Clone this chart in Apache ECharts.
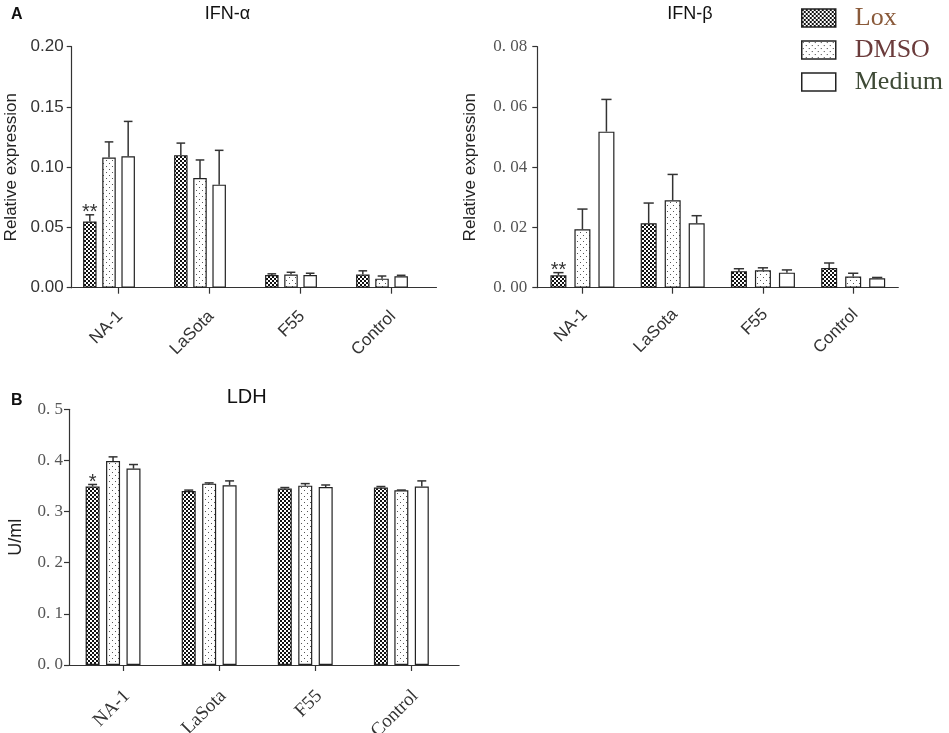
<!DOCTYPE html>
<html><head><meta charset="utf-8">
<script src="https://cdn.jsdelivr.net/npm/echarts@6/dist/echarts.min.js"></script>
<style>html,body{margin:0;padding:0;background:#fff}#c{width:949px;height:733px}</style>
</head><body><div id="c"></div>
<script>
// ---------------- data ----------------
const categories = ['NA-1', 'LaSota', 'F55', 'Control'];
const groupNames = ['Lox', 'DMSO', 'Medium'];

// IFN-α relative expression (mean, SEM)
const ifnaLox = [0.055, 0.110, 0.0105, 0.011];
const ifnaLoxSem = [0.0055, 0.010, 0.001, 0.003];
const ifnaDmso = [0.108, 0.091, 0.011, 0.0075];
const ifnaDmsoSem = [0.013, 0.015, 0.0018, 0.0022];
const ifnaMedium = [0.109, 0.0855, 0.0105, 0.0095];
const ifnaMediumSem = [0.029, 0.0285, 0.0015, 0.0008];
const ifnaSig = ['**', '', '', ''];
const ifnaTicks = ['0.00', '0.05', '0.10', '0.15', '0.20'];

// IFN-β relative expression
const ifnbLox = [0.0041, 0.0214, 0.0055, 0.0065];
const ifnbLoxSem = [0.0009, 0.0067, 0.0008, 0.0017];
const ifnbDmso = [0.0194, 0.029, 0.0058, 0.0037];
const ifnbDmsoSem = [0.0067, 0.0086, 0.0008, 0.0011];
const ifnbMedium = [0.0518, 0.0214, 0.005, 0.0031];
const ifnbMediumSem = [0.0107, 0.0025, 0.0009, 0.0003];
const ifnbSig = ['**', '', '', ''];
const ifnbTicks = ['0. 00', '0. 02', '0. 04', '0. 06', '0. 08'];

// LDH (U/ml)
const ldhLox = [0.349, 0.340, 0.345, 0.347];
const ldhLoxSem = [0.004, 0.002, 0.002, 0.002];
const ldhDmso = [0.399, 0.3546, 0.3507, 0.3416];
const ldhDmsoSem = [0.008, 0.0015, 0.004, 0.0005];
const ldhMedium = [0.384, 0.3514, 0.348, 0.349];
const ldhMediumSem = [0.008, 0.0086, 0.004, 0.011];
const ldhSig = ['*', '', '', ''];
const ldhTicks = ['0. 0', '0. 1', '0. 2', '0. 3', '0. 4', '0. 5'];

// ---------------- styles ----------------
const SANS = "'Liberation Sans', Arial, sans-serif";
const SERIF = "'Liberation Serif', 'Times New Roman', serif";
const AX = '#333';

function patternLox() {
  const c = document.createElement('canvas'); c.width = 4; c.height = 4;
  const g = c.getContext('2d');
  g.fillStyle = '#fff'; g.fillRect(0, 0, 4, 4);
  g.fillStyle = '#111'; g.fillRect(0, 0, 2, 2); g.fillRect(2, 2, 2, 2);
  return { image: c, repeat: 'repeat' };
}
function patternDmso() {
  const c = document.createElement('canvas'); c.width = 6; c.height = 6;
  const g = c.getContext('2d');
  g.fillStyle = '#fff'; g.fillRect(0, 0, 6, 6);
  g.fillStyle = '#555'; g.fillRect(1, 1, 1, 1); g.fillRect(4, 4, 1, 1);
  return { image: c, repeat: 'repeat' };
}
const fills = [patternLox(), patternDmso(), '#ffffff'];

const grids = [], xAxes = [], yAxes = [], series = [];

function mkGrid(g) {
  return Object.assign({ containLabel: false, outerBoundsMode: 'none' }, g);
}
function hiddenY(gi, p) {
  return { gridIndex: gi, type: 'value', min: 0, max: p.yMax, interval: p.yInterval, show: false };
}
function tickX(gi) {
  return {
    gridIndex: gi, type: 'category', data: categories,
    axisLine: { show: true, lineStyle: { color: AX, width: 1.2 } },
    axisTick: { show: true, alignWithLabel: true, length: 6, lineStyle: { color: AX, width: 1.2 } },
    axisLabel: { show: false }, splitLine: { show: false }
  };
}
function labelX(gi, p) {
  return {
    gridIndex: gi, type: 'category', data: categories,
    axisLine: { show: false }, axisTick: { show: false }, splitLine: { show: false },
    axisLabel: { rotate: 45, interval: 0, fontFamily: p.xFont, fontSize: p.xSize, color: '#333',
                 margin: p.xMargin, align: 'right', verticalAlign: 'top', padding: [p.xPadTop, 0, 0, 0] }
  };
}
function visY(gi, p) {
  return {
    gridIndex: gi, type: 'value', min: 0, max: p.yMax, interval: p.yInterval, offset: p.yOffset || 0,
    axisLine: { show: true, lineStyle: { color: AX, width: 1.2 } },
    axisTick: { show: true, length: 5, lineStyle: { color: AX, width: 1.2 } },
    axisLabel: {
      fontFamily: p.yFont, fontSize: 17, color: p.yColor, margin: p.yMargin,
      formatter: v => p.yTicks[Math.round(v / p.yInterval)]
    },
    splitLine: { show: false },
    name: p.yName, nameLocation: 'middle', nameRotate: 90, nameGap: p.yNameGap,
    nameTextStyle: { fontFamily: SANS, fontSize: p.yNameSize, color: '#222' }
  };
}

function addPanel(p) {
  // grid 0: bars (hidden axes), grid 1: ticks + y axis, grid 2: category labels
  const gb = grids.length;
  grids.push(mkGrid(Object.assign({}, p.plot, { left: p.barLeft })));
  grids.push(mkGrid(Object.assign({}, p.plot, { left: p.tickLeft })));
  grids.push(mkGrid(Object.assign({}, p.plot, { left: p.tickLeft + p.labelShift })));
  const xi = xAxes.length, yi = yAxes.length;
  xAxes.push({
    gridIndex: gb, type: 'category', data: categories,
    axisLine: { show: !!p.barAxisLine, lineStyle: { color: AX, width: 1.2 } },
    axisTick: { show: false }, axisLabel: { show: false }, splitLine: { show: false }
  });
  yAxes.push(hiddenY(gb, p));
  xAxes.push(tickX(gb + 1));
  yAxes.push(visY(gb + 1, p));
  xAxes.push(labelX(gb + 2, p));
  yAxes.push(hiddenY(gb + 2, p));

  const step = p.barWidth * (1 + p.barGapFrac);
  p.groups.forEach((grp, k) => {
    series.push({
      type: 'bar', name: groupNames[k], xAxisIndex: xi, yAxisIndex: yi,
      data: grp.mean, barWidth: p.barWidth, barGap: Math.round(p.barGapFrac * 100) + '%',
      itemStyle: { color: fills[k], borderColor: '#222', borderWidth: 1.2 },
      emphasis: { disabled: true }, animation: false, z: 2
    });
    const offset = (k - 1) * step;
    const sig = grp.sig || [];
    series.push({
      type: 'custom', name: groupNames[k] + ' error', xAxisIndex: xi, yAxisIndex: yi,
      data: grp.mean.map((m, i) => [i, m, m + grp.sem[i]]),
      encode: { x: 0, y: [1, 2] }, animation: false, z: 3, silent: true,
      renderItem: (params, api) => {
        const i = api.value(0);
        const pb = api.coord([i, api.value(1)]);
        const pt = api.coord([i, api.value(2)]);
        const x = pb[0] + offset;
        const cap = p.barWidth * 0.32;
        const st = { stroke: '#333', lineWidth: 1.5 };
        const ch = [
          { type: 'line', shape: { x1: x, y1: pb[1], x2: x, y2: pt[1] }, style: st },
          { type: 'line', shape: { x1: x - cap, y1: pt[1], x2: x + cap, y2: pt[1] }, style: st }
        ];
        const s = sig[params.dataIndex];
        if (s) ch.push({
          type: 'text',
          style: { text: s, x: x, y: pt[1] + 8, textAlign: 'center', textVerticalAlign: 'bottom',
                   font: '20px ' + SANS, fill: '#333' }
        });
        return { type: 'group', children: ch };
      }
    });
  });
}

addPanel({
  plot: { top: 46.7, width: 364, height: 241 },
  barLeft: 63.5, tickLeft: 72.5, labelShift: -6,
  yOffset: 0.8, yMax: 0.2, yInterval: 0.05, yTicks: ifnaTicks, yFont: SANS, yColor: '#333', yMargin: 8,
  yName: 'Relative expression', yNameGap: 52, yNameSize: 17,
  xFont: SANS, xSize: 17, xMargin: 18, xPadTop: 3, barWidth: 13.5, barGapFrac: 0.42,
  groups: [
    { mean: ifnaLox, sem: ifnaLoxSem, sig: ifnaSig },
    { mean: ifnaDmso, sem: ifnaDmsoSem },
    { mean: ifnaMedium, sem: ifnaMediumSem }
  ]
});
addPanel({
  plot: { top: 46.7, width: 361, height: 241 },
  barLeft: 537.3, tickLeft: 537.3, labelShift: -6,
  yMax: 0.08, yInterval: 0.02, yTicks: ifnbTicks, yFont: SERIF, yColor: '#555', yMargin: 10,
  yName: 'Relative expression', yNameGap: 58, yNameSize: 17,
  xFont: SANS, xSize: 17, xMargin: 16, xPadTop: 3, barWidth: 16, barGapFrac: 0.5,
  groups: [
    { mean: ifnbLox, sem: ifnbLoxSem, sig: ifnbSig },
    { mean: ifnbDmso, sem: ifnbDmsoSem },
    { mean: ifnbMedium, sem: ifnbMediumSem }
  ]
});
addPanel({
  plot: { top: 409.3, width: 384.4, height: 255.7 },
  barLeft: 65, tickLeft: 74.7, labelShift: -6, barAxisLine: true,
  yOffset: 5.7, yMax: 0.5, yInterval: 0.1, yTicks: ldhTicks, yFont: SERIF, yColor: '#555', yMargin: 6,
  yName: 'U/ml', yNameGap: 44, yNameSize: 18,
  xFont: SERIF, xSize: 19, xMargin: 18, xPadTop: 5, barWidth: 14, barGapFrac: 0.46,
  groups: [
    { mean: ldhLox, sem: ldhLoxSem, sig: ldhSig },
    { mean: ldhDmso, sem: ldhDmsoSem },
    { mean: ldhMedium, sem: ldhMediumSem }
  ]
});

const chart = echarts.init(document.getElementById('c'), null, { renderer: 'canvas' });
chart.setOption({
  backgroundColor: '#fff',
  animation: false,
  title: [
    { text: 'A', left: 11, top: 7, padding: 0, textStyle: { fontFamily: SANS, fontWeight: 'bold', fontSize: 16, color: '#111' } },
    { text: 'IFN-α', left: 227.5, top: 5, padding: 0, textAlign: 'center', textStyle: { fontFamily: SANS, fontWeight: 'normal', fontSize: 18, color: '#111' } },
    { text: 'IFN-β', left: 690, top: 5, padding: 0, textAlign: 'center', textStyle: { fontFamily: SANS, fontWeight: 'normal', fontSize: 18, color: '#111' } },
    { text: 'B', left: 11, top: 393, padding: 0, textStyle: { fontFamily: SANS, fontWeight: 'bold', fontSize: 16, color: '#111' } },
    { text: 'LDH', left: 246.7, top: 387, padding: 0, textAlign: 'center', textStyle: { fontFamily: SANS, fontWeight: 'normal', fontSize: 20, color: '#111' } }
  ],
  legend: {
    orient: 'vertical', left: 801, top: 5, padding: 0,
    itemWidth: 34, itemHeight: 18, itemGap: 6, icon: 'rect',
    selectedMode: false,
    itemStyle: { borderColor: '#222', borderWidth: 1.5 },
    textStyle: { fontFamily: SERIF, fontSize: 26, padding: [0, 0, 0, 14] },
    data: [
      { name: 'Lox', textStyle: { color: '#8a5a3a' } },
      { name: 'DMSO', textStyle: { color: '#6b3b3b' } },
      { name: 'Medium', textStyle: { color: '#3e4a36' } }
    ]
  },
  grid: grids,
  xAxis: xAxes,
  yAxis: yAxes,
  series: series
});
</script>
</body></html>
